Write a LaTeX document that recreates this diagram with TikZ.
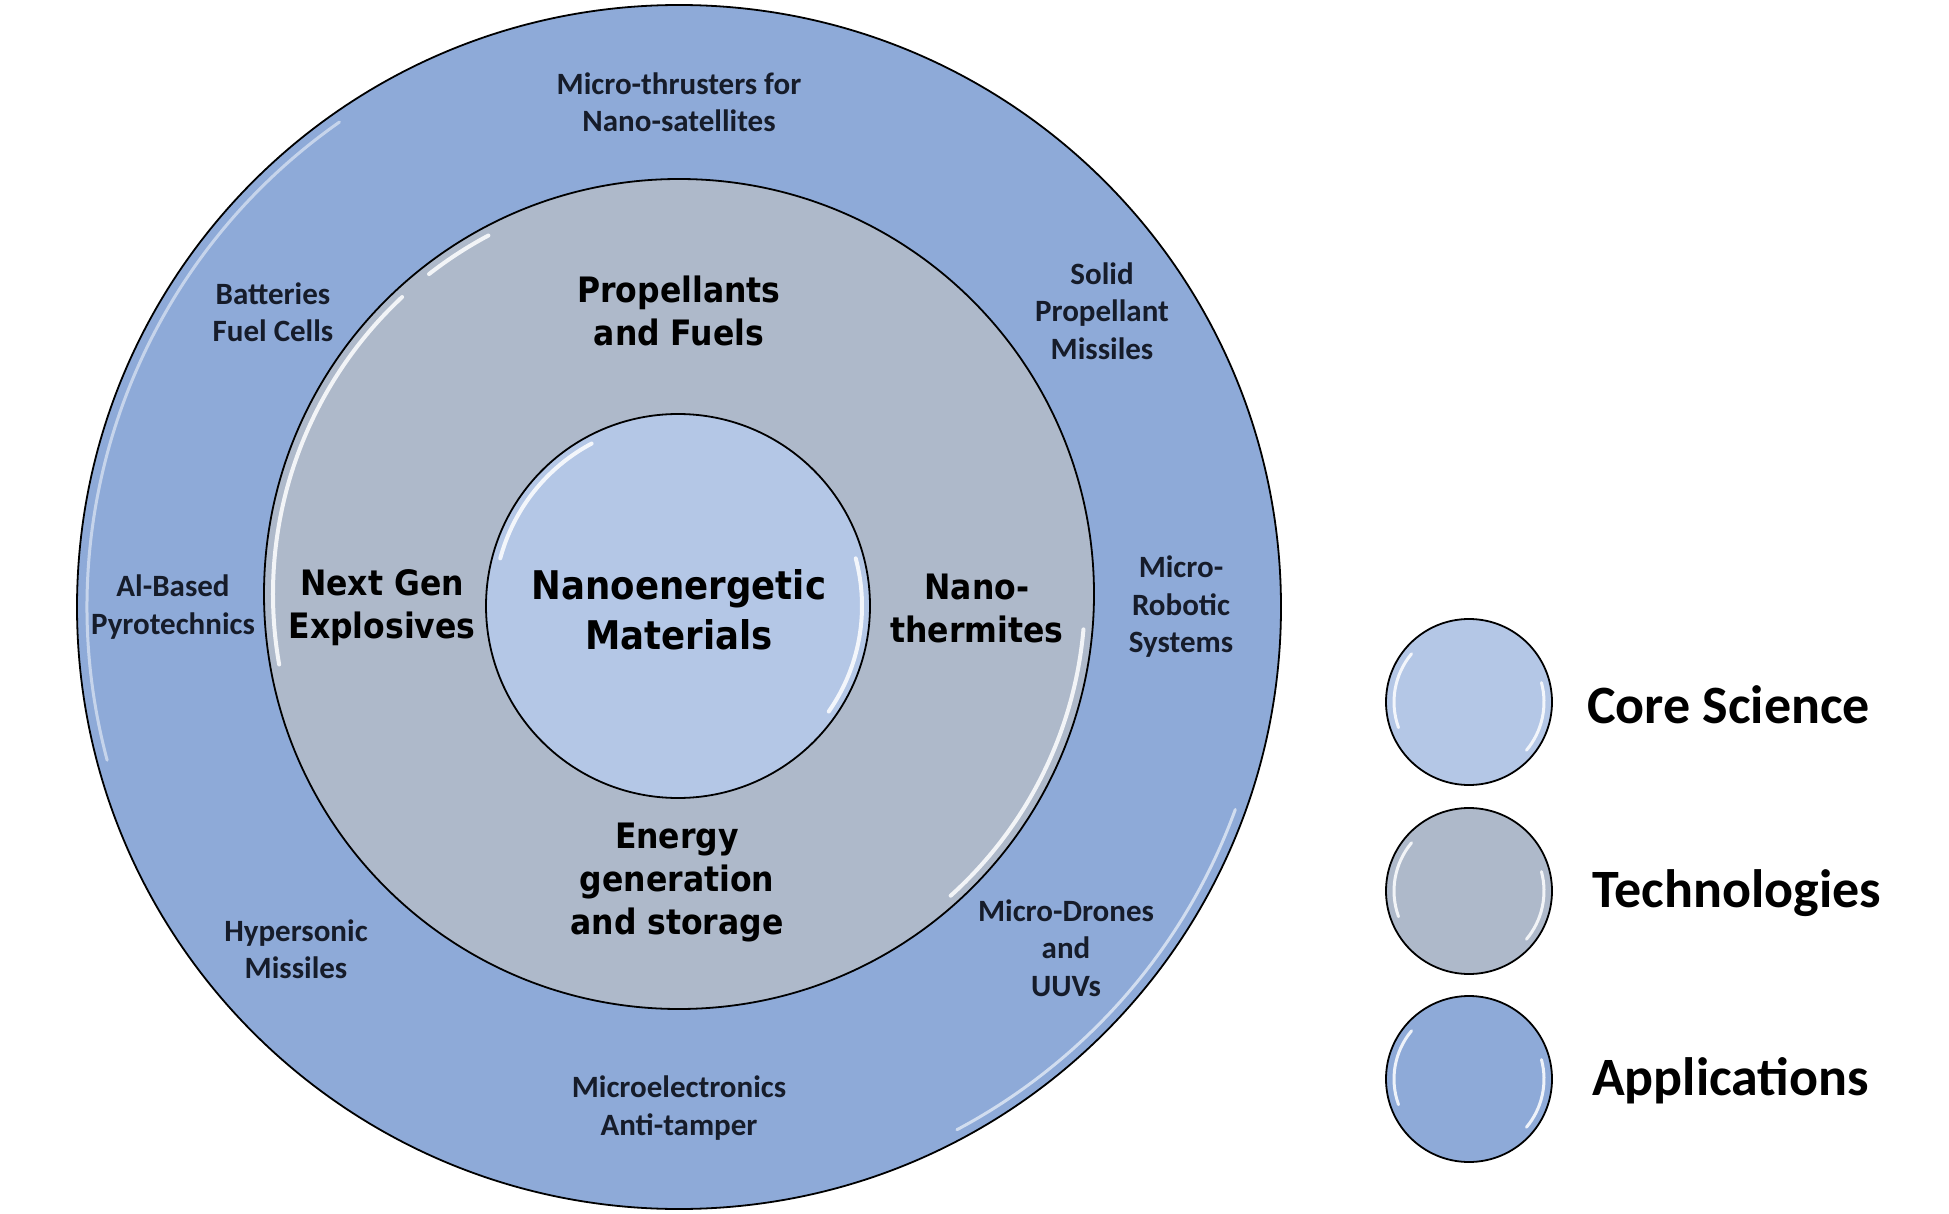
\documentclass[tikz,border=0pt]{standalone}
\usepackage{fontspec}
\newfontfamily\appfont{Carlito}
\newfontfamily\techfont{DejaVu Sans}[FakeStretch=0.9]
\definecolor{appblue}{HTML}{8EAAD8}
\definecolor{techgray}{HTML}{AEB9CA}
\definecolor{coreblue}{HTML}{B4C7E6}
\definecolor{apptext}{HTML}{161C2A}
\begin{document}
\begin{tikzpicture}[x=1pt,y=-1pt,
  ring/.style={circle, draw=black, line width=1.8pt, inner sep=0pt},
  hl/.style={draw=white, line width=#1, line cap=round, opacity=0.85},
  hl/.default=4pt,
  applbl/.style={align=center, text=apptext, font=\appfont\bfseries\fontsize{31}{37.5}\selectfont, inner sep=0pt},
  techlbl/.style={align=center, text=black, font=\techfont\bfseries\fontsize{35}{43}\selectfont, inner sep=0pt},
  corelbl/.style={align=center, text=black, font=\techfont\bfseries\fontsize{39.5}{50}\selectfont, inner sep=0pt},
  leglbl/.style={anchor=west, text=black, font=\appfont\bfseries\fontsize{54}{60}\selectfont, inner sep=0pt}
]
\useasboundingbox (0,0) rectangle (1949,1214);
\fill[white] (0,0) rectangle (1949,1214);

% rings
\node[ring, fill=appblue, minimum size=1204pt] (outer) at (679,607) {};
\node[ring, fill=techgray, minimum size=830pt] (mid) at (679,594) {};
\node[ring, fill=coreblue, minimum size=384pt] (inner) at (678,606) {};

% glossy highlights
\draw[hl=3pt, opacity=0.5] (outer.center) ++(125:592pt) arc[start angle=125, end angle=195, radius=592pt];
\draw[hl=3pt, opacity=0.6] (outer.center) ++(-20:592pt) arc[start angle=-20, end angle=-62, radius=592pt];
\draw[hl] (mid.center) ++(118:406pt) arc[start angle=118, end angle=128, radius=406pt];
\draw[hl] (mid.center) ++(133:406pt) arc[start angle=133, end angle=190, radius=406pt];
\draw[hl] (mid.center) ++(-5:406pt) arc[start angle=-5, end angle=-48, radius=406pt];
\draw[hl] (inner.center) ++(118:184pt) arc[start angle=118, end angle=165, radius=184pt];
\draw[hl] (inner.center) ++(15:184pt) arc[start angle=15, end angle=-35, radius=184pt];

% application labels
\node[applbl] (a1) at (679,102) {Micro-thrusters for\\Nano-satellites};
\node[applbl] (a2) at (273,312) {Batteries\\Fuel Cells};
\node[applbl] (a3) at (1102,311) {Solid\\Propellant\\Missiles};
\node[applbl] (a4) at (173,607) {Al-Based\\Pyrotechnics};
\node[applbl] (a5) at (1181,607) {Micro-\\Robotic\\Systems};
\node[applbl] (a6) at (296,949) {Hypersonic\\Missiles};
\node[applbl] (a7) at (1066,948) {Micro-Drones\\and\\UUVs};
\node[applbl] (a8) at (679,1108) {Microelectronics\\Anti-tamper};

% technology labels
\node[techlbl] (t1) at (679,311) {Propellants\\and Fuels};
\node[techlbl] (t2) at (382,608) {Next Gen\\Explosives};
\node[techlbl] (t3) at (977,608) {Nano-\\thermites};
\node[techlbl] (t4) at (677,883) {Energy\\generation\\and storage};

% core label
\node[corelbl] (c1) at (679,610) {Nanoenergetic\\Materials};

% legend
\node[ring, fill=coreblue, minimum size=166pt] (l1) at (1469,702) {};
\node[ring, fill=techgray, minimum size=166pt] (l2) at (1469,891) {};
\node[ring, fill=appblue, minimum size=166pt] (l3) at (1469,1079) {};
\foreach \n in {l1,l2,l3}{
  \draw[hl=3pt] (\n.center) ++(140:75pt) arc[start angle=140, end angle=200, radius=75pt];
  \draw[hl=3pt] (\n.center) ++(15:75pt) arc[start angle=15, end angle=-40, radius=75pt];
}
\node[leglbl] (k1) at (1587,705) {Core Science};
\node[leglbl] (k2) at (1592,893) {Technologies};
\node[leglbl] (k3) at (1592,1081) {Applications};
\end{tikzpicture}
\end{document}
